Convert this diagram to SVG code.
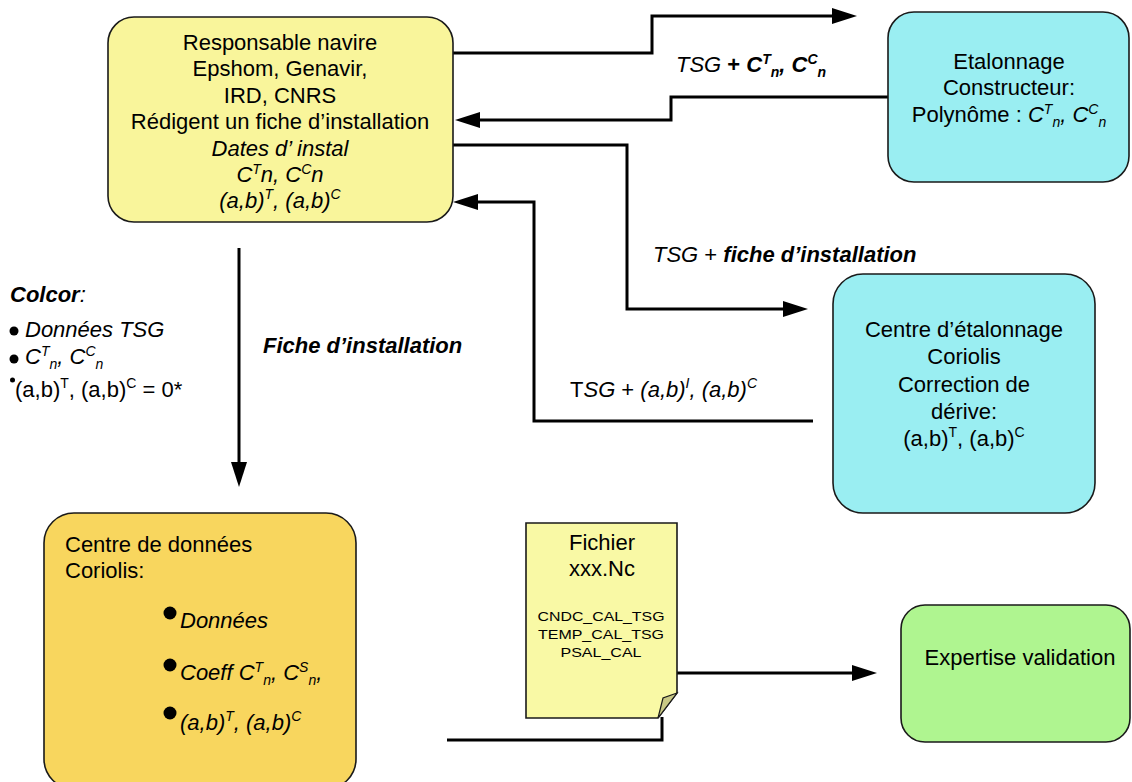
<svg xmlns="http://www.w3.org/2000/svg" width="1132" height="782" viewBox="0 0 1132 782">
<style>
text{font-family:"Liberation Sans",Arial,sans-serif;font-size:22px;fill:#000}
.m{text-anchor:middle}
.i{font-style:italic}
.b{font-weight:bold}
.box{stroke:#1a1a1a;stroke-width:1.6}
.conn{fill:none;stroke:#000;stroke-width:3}
.s{font-size:14px}
.doc{font-size:13px}
</style>
<defs>
<marker id="arr" markerUnits="userSpaceOnUse" markerWidth="26" markerHeight="18" refX="5" refY="8" orient="auto" overflow="visible">
<path d="M0,0 L25,8 L0,16 z" fill="#000"/>
</marker>
</defs>
<rect width="1132" height="782" fill="#fff"/>

<g id="connectors">
<path class="conn" d="M447,53 H652 V16 H837" marker-end="url(#arr)"/>
<path class="conn" d="M888,97 H671 V120 H475" marker-end="url(#arr)"/>
<path class="conn" d="M447,145 H627 V309 H788" marker-end="url(#arr)"/>
<path class="conn" d="M813,421 H534 V202 H473" marker-end="url(#arr)"/>
<path class="conn" d="M239,248 V467" marker-end="url(#arr)"/>
<path class="conn" d="M447,740 H662 V717"/>
<path class="conn" d="M677,673 H857" marker-end="url(#arr)"/>
<text x="676" y="72"><tspan class="i">TSG</tspan><tspan class="b"> + </tspan><tspan class="b i">C</tspan><tspan class="b i s" dy="-8">T</tspan><tspan class="b i s" dy="13">n</tspan><tspan class="b i" dy="-5">, C</tspan><tspan class="b i s" dy="-8">C</tspan><tspan class="b i s" dy="13">n</tspan></text>
<text x="653" y="262"><tspan class="i">TSG</tspan> + <tspan class="b i">fiche d’installation</tspan></text>
<text x="263" y="353" class="b i">Fiche d’installation</text>
<text x="570" y="397">T<tspan class="i">SG</tspan> + <tspan class="i">(a,b)</tspan><tspan class="i s" dy="-9">I</tspan><tspan class="i" dy="9">, (a,b)</tspan><tspan class="i s" dy="-9">C</tspan></text>
</g>

<g id="responsable">
<rect class="box" x="108" y="17" width="345" height="205" rx="26" fill="#f9f59b"/>
<text class="m" x="280" y="50">Responsable navire</text>
<text class="m" x="280" y="76">Epshom, Genavir,</text>
<text class="m" x="280" y="103">IRD, CNRS</text>
<text class="m" x="280" y="129">Rédigent un fiche d’installation</text>
<text class="m i" x="280" y="156">Dates d’ instal</text>
<text class="m i" x="280" y="182">C<tspan class="s" dy="-8">T</tspan><tspan dy="8">n, C</tspan><tspan class="s" dy="-8">C</tspan><tspan dy="8">n</tspan></text>
<text class="m i" x="280" y="208">(a,b)<tspan class="s" dy="-9">T</tspan><tspan dy="9">, (a,b)</tspan><tspan class="s" dy="-9">C</tspan></text>
</g>

<g id="etalonnage-constructeur">
<rect class="box" x="888" y="12" width="241" height="170" rx="26" fill="#9aeef2"/>
<text class="m" x="1009" y="69">Etalonnage</text>
<text class="m" x="1009" y="95">Constructeur:</text>
<text class="m" x="1009" y="122">Polynôme : <tspan class="i">C</tspan><tspan class="i s" dy="-8">T</tspan><tspan class="i s" dy="13">n</tspan><tspan class="i" dy="-5">, C</tspan><tspan class="i s" dy="-8">C</tspan><tspan class="i s" dy="13">n</tspan></text>
</g>

<g id="colcor">
<text x="10" y="302"><tspan class="b i">Colcor</tspan><tspan class="i">:</tspan></text>
<circle cx="14" cy="331" r="4.5"/>
<text x="25" y="337" class="i">Données TSG</text>
<circle cx="14" cy="359" r="4.5"/>
<text x="25" y="364" class="i">C<tspan class="s" dy="-8">T</tspan><tspan class="s" dy="13">n</tspan><tspan dy="-5">, C</tspan><tspan class="s" dy="-8">C</tspan><tspan class="s" dy="13">n</tspan></text>
<circle cx="12.5" cy="380" r="2.5"/>
<text x="15" y="397">(a,b)<tspan class="s" dy="-9">T</tspan><tspan dy="9">, (a,b)</tspan><tspan class="s" dy="-9">C</tspan><tspan dy="9"> = 0*</tspan></text>
</g>

<g id="centre-etalonnage">
<rect class="box" x="833" y="274" width="262" height="239" rx="30" fill="#9aeef2"/>
<text class="m" x="964" y="337">Centre d’étalonnage</text>
<text class="m" x="964" y="364">Coriolis</text>
<text class="m" x="964" y="392">Correction de</text>
<text class="m" x="964" y="419">dérive:</text>
<text class="m" x="964" y="446">(a,b)<tspan class="s" dy="-9">T</tspan><tspan dy="9">, (a,b)</tspan><tspan class="s" dy="-9">C</tspan></text>
</g>

<g id="centre-donnees">
<rect class="box" x="44" y="513" width="312" height="276" rx="30" fill="#f8d65e"/>
<text x="65" y="552">Centre de données</text>
<text x="65" y="578">Coriolis:</text>
<circle cx="170" cy="613" r="6.5"/>
<text x="180" y="628" class="i">Données</text>
<circle cx="170" cy="665" r="6.5"/>
<text x="180" y="680" class="i">Coeff C<tspan class="s" dy="-8">T</tspan><tspan class="s" dy="13">n</tspan><tspan dy="-5">, C</tspan><tspan class="s" dy="-8">S</tspan><tspan class="s" dy="13">n</tspan><tspan dy="-5">,</tspan></text>
<circle cx="170" cy="713" r="6.5"/>
<text x="180" y="730" class="i">(a,b)<tspan class="s" dy="-9">T</tspan><tspan dy="9">, (a,b)</tspan><tspan class="s" dy="-9">C</tspan></text>
</g>

<g id="fichier">
<path class="box" d="M526,523 H677 V693 L658,718 H526 Z" fill="#f9f9a5"/>
<path d="M677,693 L663,698 L658,718 Z" fill="#c9c985" stroke="#1a1a1a" stroke-width="1.2"/>
<text class="m" x="602" y="550">Fichier</text>
<text class="m" x="602" y="576">xxx.Nc</text>
<text class="m doc" x="601" y="621" textLength="127" lengthAdjust="spacingAndGlyphs">CNDC_CAL_TSG</text>
<text class="m doc" x="601" y="639" textLength="126" lengthAdjust="spacingAndGlyphs">TEMP_CAL_TSG</text>
<text class="m doc" x="601" y="657" textLength="81" lengthAdjust="spacingAndGlyphs">PSAL_CAL</text>
</g>

<g id="expertise">
<rect class="box" x="901" y="605" width="229" height="137" rx="24" fill="#aff590"/>
<text class="m" x="1020" y="665">Expertise validation</text>
</g>
</svg>
